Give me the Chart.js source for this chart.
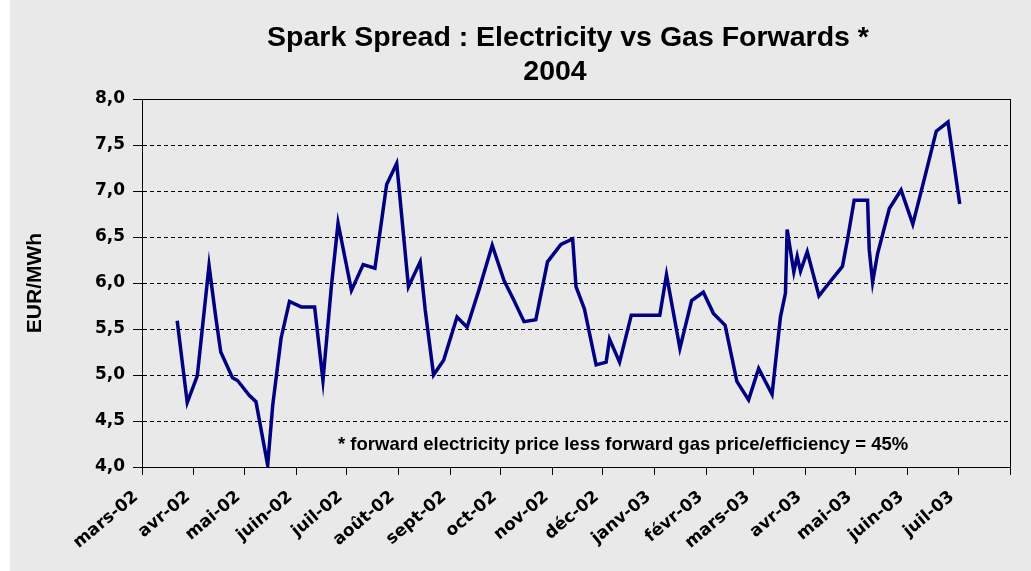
<!DOCTYPE html>
<html>
<head>
<meta charset="utf-8">
<script src="https://cdn.jsdelivr.net/npm/chart.js@4/dist/chart.umd.min.js"></script>
<style>
  body { margin: 0; background: #fff; }
  #wrap { position: absolute; left: 10px; top: 0; width: 1021px; height: 571px; background: #e9e9e9; }
</style>
</head>
<body>
<div id="wrap"><canvas id="chart" width="1021" height="571"></canvas></div>
<script>
// DATA
const dates = [
  "2002-03-22", "2002-03-28", "2002-04-03", "2002-04-10", "2002-04-14", "2002-04-17", "2002-04-24", "2002-04-27",
  "2002-05-04", "2002-05-08", "2002-05-15", "2002-05-18", "2002-05-23", "2002-05-28", "2002-06-04", "2002-06-12",
  "2002-06-17", "2002-06-22", "2002-06-26", "2002-07-04", "2002-07-11", "2002-07-18", "2002-07-25", "2002-07-31",
  "2002-08-07", "2002-08-14", "2002-08-17", "2002-08-22", "2002-08-28", "2002-09-05", "2002-09-11", "2002-09-18",
  "2002-09-26", "2002-10-03", "2002-10-09", "2002-10-15", "2002-10-22", "2002-10-29", "2002-11-06", "2002-11-13",
  "2002-11-15", "2002-11-20", "2002-11-27", "2002-12-03", "2002-12-05", "2002-12-11", "2002-12-18", "2003-01-04",
  "2003-01-08", "2003-01-16", "2003-01-23", "2003-01-30", "2003-02-05", "2003-02-12", "2003-02-19", "2003-02-26",
  "2003-03-04", "2003-03-12", "2003-03-17", "2003-03-20", "2003-03-21", "2003-03-25", "2003-03-27", "2003-03-29",
  "2003-04-02", "2003-04-09", "2003-04-15", "2003-04-23", "2003-04-26", "2003-04-30", "2003-05-08", "2003-05-09",
  "2003-05-11", "2003-05-14", "2003-05-21", "2003-05-28", "2003-06-04", "2003-06-11", "2003-06-18", "2003-06-25",
  "2003-07-02"
];
const spread = [
  5.59, 4.70, 4.99, 6.19, 5.63, 5.25, 4.97, 4.94,
  4.78, 4.71, 4.02, 4.67, 5.40, 5.80, 5.74, 5.74,
  4.94, 5.96, 6.65, 5.92, 6.20, 6.16, 7.07, 7.30,
  5.96, 6.23, 5.71, 5.00, 5.16, 5.63, 5.52, 5.92,
  6.41, 6.03, 5.81, 5.58, 5.60, 6.23, 6.42, 6.48,
  5.96, 5.72, 5.11, 5.14, 5.39, 5.14, 5.65, 5.65,
  6.09, 5.29, 5.81, 5.90, 5.67, 5.54, 4.93, 4.73,
  5.07, 4.79, 5.63, 5.89, 6.58, 6.12, 6.29, 6.13,
  6.34, 5.86, 6.00, 6.18, 6.47, 6.90, 6.90, 6.36,
  6.01, 6.32, 6.81, 7.01, 6.64, 7.14, 7.65, 7.75,
  6.86
];
const monthTicks = [
  "2002-03-01", "2002-04-01", "2002-05-01", "2002-06-01", "2002-07-01", "2002-08-01", "2002-09-01", "2002-10-01",
  "2002-11-01", "2002-12-01", "2003-01-01", "2003-02-01", "2003-03-01", "2003-04-01", "2003-05-01", "2003-06-01",
  "2003-07-01", "2003-08-01"
];
const monthLabels = [
  "mars-02", "avr-02", "mai-02", "juin-02", "juil-02", "août-02", "sept-02", "oct-02",
  "nov-02", "déc-02", "janv-03", "févr-03", "mars-03", "avr-03", "mai-03", "juin-03",
  "juil-03", ""
];
const yTicks = [4.0, 4.5, 5.0, 5.5, 6.0, 6.5, 7.0, 7.5, 8.0];

const titleLines = ["Spark Spread : Electricity vs Gas Forwards *", "2004"];
const yTitle = "EUR/MWh";
const note = "* forward electricity price less forward gas price/efficiency = 45%";

function toDay(s) {
  return Date.parse(s + "T00:00:00Z") / 86400000;
}

const points = dates.map((d, i) => ({ x: toDay(d), y: spread[i] }));
const tickFont = { family: "DejaVu Sans", weight: "bold", size: 17 };

// TEXT + FRAME
const extras = {
  id: "extras",
  afterDraw(chart) {
    const ctx = chart.ctx;
    const a = chart.chartArea;
    ctx.save();
    ctx.strokeStyle = "#000";
    ctx.lineWidth = 1;
    ctx.strokeRect(Math.round(a.left) + 0.5, Math.round(a.top) + 0.5,
      Math.round(a.right - a.left), Math.round(a.bottom - a.top));

    ctx.fillStyle = "#000";
    ctx.textAlign = "center";
    ctx.textBaseline = "alphabetic";
    ctx.font = "bold 28.5px 'Liberation Sans', Arial";
    ctx.fillText(titleLines[0], 558, 46);
    ctx.fillText(titleLines[1], 545, 80);

    ctx.font = "bold 18.5px 'Liberation Sans', Arial";
    ctx.textAlign = "left";
    ctx.fillText(note, 328, 450);

    ctx.translate(25, 283);
    ctx.rotate(-Math.PI / 2);
    ctx.textAlign = "center";
    ctx.textBaseline = "middle";
    ctx.font = "bold 21px 'Liberation Sans', Arial";
    ctx.fillText(yTitle, 0, 0);
    ctx.restore();
  }
};

new Chart(document.getElementById("chart"), {
  type: "line",
  data: {
    datasets: [{
      data: points,
      borderColor: "#000080",
      borderWidth: 3.5,
      pointRadius: 0,
      tension: 0,
      fill: false
    }]
  },
  options: {
    responsive: false,
    animation: false,
    devicePixelRatio: 1,
    layout: { padding: { top: 99, right: 21, left: 0, bottom: 0 } },
    plugins: {
      legend: { display: false },
      tooltip: { enabled: false }
    },
    scales: {
      x: {
        type: "linear",
        min: toDay(monthTicks[0]),
        max: toDay(monthTicks[monthTicks.length - 1]),
        afterBuildTicks: s => { s.ticks = monthTicks.map(m => ({ value: toDay(m) })); },
        afterFit: s => { s.height = 104; s.paddingLeft = 0; s.paddingRight = 0; },
        ticks: {
          autoSkip: false,
          maxRotation: 40,
          minRotation: 40,
          padding: 12,
          labelOffset: -6,
          color: "#000",
          font: tickFont,
          callback: (v, i) => monthLabels[i]
        },
        grid: { drawOnChartArea: false, drawTicks: true, tickLength: 8, color: "#000", tickColor: "#000" },
        border: { display: true, color: "#000", width: 1 }
      },
      y: {
        min: 4,
        max: 8,
        afterBuildTicks: s => { s.ticks = yTicks.map(v => ({ value: v })); },
        afterFit: s => { s.width = 132; },
        ticks: {
          padding: 8,
          color: "#000",
          font: tickFont,
          callback: v => v.toFixed(1).replace(".", ",")
        },
        grid: { color: "#000", lineWidth: 1, drawTicks: true, tickLength: 9, tickColor: "#000", tickBorderDash: [] },
        border: { display: true, color: "#000", width: 1, dash: [4, 3] }
      }
    }
  },
  plugins: [extras]
});
</script>
</body>
</html>
